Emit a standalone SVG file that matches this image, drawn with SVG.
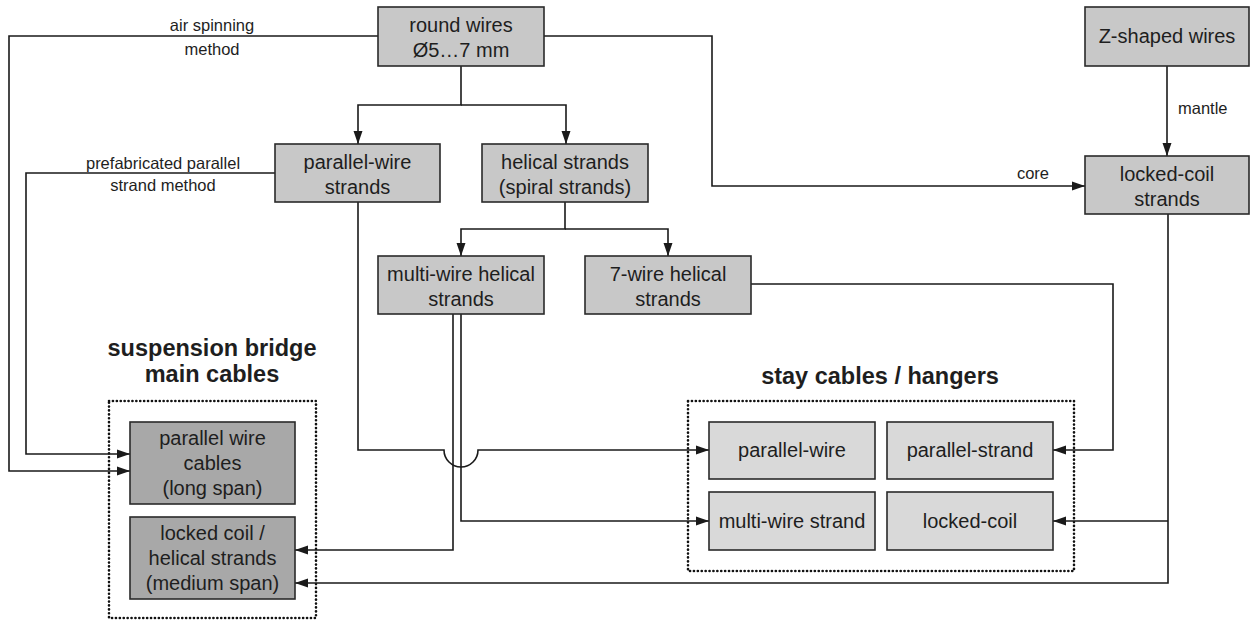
<svg xmlns="http://www.w3.org/2000/svg" width="1250" height="622" viewBox="0 0 1250 622">
  <defs>
    <marker id="arr" markerWidth="14" markerHeight="11" refX="13" refY="5.5" orient="auto" markerUnits="userSpaceOnUse">
      <path d="M0,1 L13,5.5 L0,10 Z" fill="#1a1a1a"/>
    </marker>
    <style>
      text { font-family: "Liberation Sans", Arial, sans-serif; fill: #1e1e1e; text-anchor: middle; }
      .box { stroke: #2a2a2a; stroke-width: 1.6; }
      .mid { fill: #c8c8c8; }
      .dark { fill: #a8a8a8; }
      .light { fill: #d9d9d9; }
      .t { font-size: 20px; }
      .lbl { font-size: 16.5px; }
      .title { font-size: 23.5px; font-weight: bold; }
      .group { fill: none; stroke: #111111; stroke-width: 2.6; stroke-dasharray: 0.1 3.8; stroke-linecap: round; }
      .conn path { fill: none; stroke: #1a1a1a; stroke-width: 1.6; }
      .conn path.a { marker-end: url(#arr); }
    </style>
  </defs>
  <rect width="1250" height="622" fill="#ffffff"/>

  <!-- grouping frames and their titles -->
  <g id="main-cables-group">
    <rect class="group" x="109" y="401" width="207" height="217"/>
    <text class="title" x="212" y="356">suspension bridge</text>
    <text class="title" x="212" y="382">main cables</text>
  </g>
  <g id="stay-cables-group">
    <rect class="group" x="688" y="401" width="386" height="170"/>
    <text class="title" x="880" y="384">stay cables / hangers</text>
  </g>

  <!-- connectors -->
  <g id="connectors" class="conn">
    <path class="a" d="M378,36 H9 V471 H130"/>
    <path class="a" d="M461,66 V105 H358 V144"/>
    <path class="a" d="M461,105 H566 V144"/>
    <path class="a" d="M544,36 H712 V186 H1085"/>
    <path class="a" d="M1167,66 V156"/>
    <path class="a" d="M275,173 H26 V454 H130"/>
    <path class="a" d="M358,202 V450 H444 A17,17 0 0 0 478,450 H709"/>
    <path class="a" d="M565,202 V229 H461 V256"/>
    <path class="a" d="M565,229 H668 V256"/>
    <path class="a" d="M453,314 V550 H295"/>
    <path class="a" d="M461,314 V521 H709"/>
    <path class="a" d="M751,284 H1113 V450 H1053"/>
    <path class="a" d="M1168,214 V583 H295"/>
    <path class="a" d="M1168,521 H1053"/>
  </g>

  <!-- connector labels -->
  <g id="labels">
    <text class="lbl" x="212" y="31">air spinning</text>
    <text class="lbl" x="212" y="55">method</text>
    <text class="lbl" x="163" y="169">prefabricated parallel</text>
    <text class="lbl" x="163" y="191">strand method</text>
    <text class="lbl" x="1033" y="179">core</text>
    <text class="lbl" x="1178" y="114" style="text-anchor:start">mantle</text>
  </g>

  <!-- nodes -->
  <g id="round-wires">
    <rect class="box mid" x="378" y="7" width="166" height="59"/>
    <text class="t" x="461" y="32">round wires</text>
    <text class="t" x="461" y="57">Ø5…7 mm</text>
  </g>
  <g id="z-shaped-wires">
    <rect class="box mid" x="1085" y="7" width="164" height="59"/>
    <text class="t" x="1167" y="43">Z-shaped wires</text>
  </g>
  <g id="parallel-wire-strands">
    <rect class="box mid" x="275" y="144" width="165" height="58"/>
    <text class="t" x="357.5" y="169">parallel-wire</text>
    <text class="t" x="357.5" y="194">strands</text>
  </g>
  <g id="helical-strands">
    <rect class="box mid" x="482" y="144" width="166" height="58"/>
    <text class="t" x="565" y="169">helical strands</text>
    <text class="t" x="565" y="194">(spiral strands)</text>
  </g>
  <g id="locked-coil-strands">
    <rect class="box mid" x="1085" y="156" width="164" height="58"/>
    <text class="t" x="1167" y="181">locked-coil</text>
    <text class="t" x="1167" y="206">strands</text>
  </g>
  <g id="multi-wire-helical">
    <rect class="box mid" x="378" y="256" width="166" height="58"/>
    <text class="t" x="461" y="281">multi-wire helical</text>
    <text class="t" x="461" y="306">strands</text>
  </g>
  <g id="seven-wire-helical">
    <rect class="box mid" x="585" y="256" width="166" height="58"/>
    <text class="t" x="668" y="281">7-wire helical</text>
    <text class="t" x="668" y="306">strands</text>
  </g>
  <g id="parallel-wire-cables">
    <rect class="box dark" x="130" y="422" width="165" height="82"/>
    <text class="t" x="212.5" y="445">parallel wire</text>
    <text class="t" x="212.5" y="470">cables</text>
    <text class="t" x="212.5" y="495">(long span)</text>
  </g>
  <g id="locked-coil-helical-cables">
    <rect class="box dark" x="130" y="517" width="165" height="82"/>
    <text class="t" x="212.5" y="540">locked coil /</text>
    <text class="t" x="212.5" y="565">helical strands</text>
    <text class="t" x="212.5" y="590">(medium span)</text>
  </g>
  <g id="stay-parallel-wire">
    <rect class="box light" x="709" y="422" width="166" height="57"/>
    <text class="t" x="792" y="457">parallel-wire</text>
  </g>
  <g id="stay-parallel-strand">
    <rect class="box light" x="887" y="422" width="166" height="57"/>
    <text class="t" x="970" y="457">parallel-strand</text>
  </g>
  <g id="stay-multi-wire-strand">
    <rect class="box light" x="709" y="492" width="166" height="58"/>
    <text class="t" x="792" y="528">multi-wire strand</text>
  </g>
  <g id="stay-locked-coil">
    <rect class="box light" x="887" y="492" width="166" height="58"/>
    <text class="t" x="970" y="528">locked-coil</text>
  </g>
</svg>
